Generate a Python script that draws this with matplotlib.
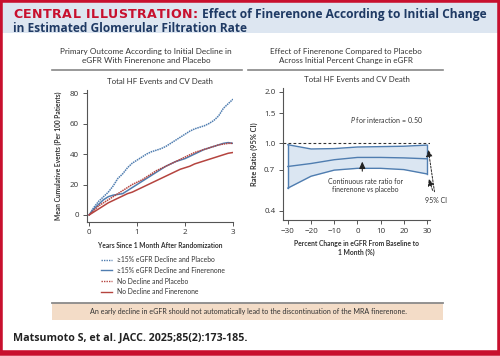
import numpy as np
import matplotlib
matplotlib.use("Agg")
import matplotlib.pyplot as plt
from matplotlib.patches import Rectangle
from matplotlib.lines import Line2D

plt.rcParams['font.family'] = ['Lato', 'DejaVu Sans']
plt.rcParams['mathtext.fontset'] = 'custom'
plt.rcParams['mathtext.it'] = 'Lato:italic'

# left panel: mean cumulative events per 100 patients
years = [0, 0.1, 0.2, 0.3, 0.4, 0.5, 0.6, 0.7, 0.8, 0.9, 1.0, 1.1, 1.2, 1.3, 1.4, 1.5,
         1.6, 1.7, 1.8, 1.9, 2.0, 2.1, 2.2, 2.3, 2.4, 2.5, 2.6, 2.7, 2.8, 2.9, 3.0]
decline_placebo = [0, 5, 9, 12, 15, 19, 24, 27, 31, 34, 36, 38, 40, 41.5, 42.5, 43.5,
                   45, 47, 49, 51, 53, 55, 56.5, 57.5, 58.5, 60, 62, 65, 70, 73, 76]
decline_finer = [0, 4, 7, 10, 12, 13, 13.5, 14, 16, 18, 20, 22, 24, 26, 28, 30,
                 32, 33.5, 35, 36, 37, 38.5, 40, 41.5, 43, 44, 45, 46, 47, 47.5, 47]
nodecl_placebo = [0, 3, 6, 8, 10, 12, 14, 16, 18, 20, 21.5, 23, 25, 27, 29, 30.5,
                  32, 33.5, 35, 36.5, 38, 39.5, 41, 42, 43, 44, 45, 46, 46.5, 47, 47]
nodecl_finer = [0, 2, 4, 6, 8, 9.5, 11, 12.5, 14, 15, 16.5, 18, 19.5, 21, 22.5, 24,
                25.5, 27, 28.5, 30, 31, 32, 33.5, 34.5, 35.5, 36.5, 37.5, 38.5, 39.5, 40.5, 41]

# right panel: rate ratio by percent change in eGFR
pct = [-30, -20, -10, 0, 10, 20, 30]
rr_mid = [0.73, 0.76, 0.80, 0.825, 0.825, 0.82, 0.81]
rr_low = [0.545, 0.64, 0.695, 0.712, 0.712, 0.70, 0.66]
rr_high = [0.98, 0.925, 0.93, 0.95, 0.955, 0.96, 0.975]

blue = '#4f7db0'
red = '#b5443f'
txt = '#333333'
navy = '#1f3a64'
crimson = '#c8102e'
head_font = ['Open Sans', 'DejaVu Sans']

fig = plt.figure(figsize=(5, 3.56), dpi=100)
H = 356.0
renderer = fig.canvas.get_renderer()


def fit(t, target, vertical=False):
    # rescale a text so its length in pixels matches the reference
    bb = t.get_window_extent(renderer)
    w = bb.height if vertical else bb.width
    t.set_fontsize(t.get_fontsize() * target / w)
    return t


def fit_text(x0, x1, y, s, size, **kw):
    t = fig.text(x0 / 500, 1 - y / H, s, fontsize=size, ha='left', **kw)
    return fit(t, x1 - x0)


def text_width(s, size, **kw):
    t = fig.text(0, 0, s, fontsize=size, **kw)
    w = t.get_window_extent(renderer).width
    t.remove()
    return w


def tracked(x0, x1, y, s, size, **kw):
    # letter-spaced caps: spread characters evenly between x0 and x1
    natural = text_width(s, size, **kw)
    track = (x1 - x0 - natural) / (len(s) - 1)
    bar = text_width('|', size, **kw)
    for i, ch in enumerate(s):
        x = x0 + (text_width(s[:i] + '|', size, **kw) - bar if i else 0) + i * track
        fig.text(x / 500, 1 - y / H, ch, fontsize=size, ha='left', va='baseline', **kw)


# header band and frame
fig.patches.append(Rectangle((0, 1 - 33 / H), 1, 33 / H, transform=fig.transFigure,
                             facecolor='#dde6f1', edgecolor='none', zorder=0))
fig.patches.append(Rectangle((0, 0.008), 1, 0.992, transform=fig.transFigure,
                             facecolor='none', edgecolor=crimson, lw=4, zorder=5))
t_head = fit_text(202, 487, 18, 'Effect of Finerenone According to Initial Change', 10,
                  color=navy, fontweight='bold', family=head_font, va='baseline')
fit_text(13, 248, 32, 'in Estimated Glomerular Filtration Rate', 10, color=navy,
         fontweight='bold', family=head_font, va='baseline')
tracked(13, 198, 18, 'CENTRAL ILLUSTRATION:', t_head.get_fontsize() * 1.05, color=crimson,
        fontweight='bold', family=['DejaVu Sans'])

# panel titles
t1 = fig.text(146 / 500, 1 - 56 / H, 'Primary Outcome According to Initial Decline in\neGFR With Finerenone and Placebo',
              ha='center', va='center', fontsize=6.2, color=txt, linespacing=1.25)
fit(t1, 172)
t2 = fig.text(346 / 500, 1 - 56 / H, 'Effect of Finerenone Compared to Placebo\nAcross Initial Percent Change in eGFR',
              ha='center', va='center', fontsize=6.2, color=txt, linespacing=1.25)
fit(t2, 152)
fig.add_artist(Line2D([52 / 500, 242 / 500], [1 - 70 / H, 1 - 70 / H], color='#888888', lw=1.2))
fig.add_artist(Line2D([248 / 500, 443 / 500], [1 - 70 / H, 1 - 70 / H], color='#888888', lw=1.2))

# left chart
ax1 = fig.add_axes([86.7 / 500, 1 - 221.7 / H, 146.3 / 500, 131.7 / H])
ax1.plot(years, decline_placebo, color=blue, lw=1.1, linestyle=(0, (1, 0.5)))
ax1.plot(years, decline_finer, color=blue, lw=1.1)
ax1.plot(years, nodecl_placebo, color=red, lw=1.1, linestyle=(0, (1, 0.5)))
ax1.plot(years, nodecl_finer, color=red, lw=1.1)
ax1.set_xlim(-0.05, 3.0)
ax1.set_ylim(-4.4, 82)
ax1.set_xticks([0, 1, 2, 3])
ax1.set_yticks([0, 20, 40, 60, 80])
fit(ax1.set_title('Total HF Events and CV Death', fontsize=6, color=txt, pad=4.5), 106)
fit(ax1.set_xlabel('Years Since 1 Month After Randomization', fontsize=5.1, fontweight='bold',
                   color=txt, labelpad=4), 125)
fit(ax1.set_ylabel('Mean Cumulative Events (Per 100 Patients)', fontsize=5.1, fontweight='bold',
                   color=txt, labelpad=6), 130, vertical=True)

handles = [Line2D([], [], color=blue, lw=1.0, linestyle=(0, (1, 0.8))),
           Line2D([], [], color=blue, lw=1.0),
           Line2D([], [], color=red, lw=1.0, linestyle=(0, (1, 0.8))),
           Line2D([], [], color=red, lw=1.0)]
labels = ['\u226515% eGFR Decline and Placebo', '\u226515% eGFR Decline and Finerenone',
          'No Decline and Placebo', 'No Decline and Finerenone']
leg_size = 5.4 * 108 / text_width(labels[1], 5.4)
fig.legend(handles, labels, loc='upper left', bbox_to_anchor=(95 / 500, 1 - 250 / H),
           frameon=False, fontsize=leg_size, handlelength=1.6, handletextpad=0.7,
           labelspacing=0.55, labelcolor=txt)

# right chart
ax2 = fig.add_axes([283 / 500, 1 - 220 / H, 147 / 500, 132 / H])
ax2.set_yscale('log')
ax2.fill_between(pct, rr_low, rr_high, color='#dbe6f2', lw=0)
ax2.plot(pct, rr_high, color=blue, lw=1.0)
ax2.plot(pct, rr_low, color=blue, lw=1.0)
ax2.plot(pct, rr_mid, color=blue, lw=1.0)
ax2.plot([pct[0], pct[0]], [rr_low[0], rr_high[0]], color=blue, lw=1.0)
ax2.plot([pct[-1], pct[-1]], [rr_low[-1], rr_high[-1]], color=blue, lw=1.0)
ax2.axhline(1.0, color='#333333', lw=0.8, linestyle=(0, (2.5, 2)))
ax2.set_xlim(-32.1, 31.3)
ax2.set_ylim(0.354, 2.11)
ax2.set_yticks([0.4, 0.7, 1.0, 1.5, 2.0])
ax2.set_yticklabels(['0.4', '0.7', '1.0', '1.5', '2.0'])
ax2.minorticks_off()
ax2.set_xticks([-30, -20, -10, 0, 10, 20, 30])
ax2.set_xticklabels(['\u221230', '\u221220', '\u221210', '0', '10', '20', '30'])
fit(ax2.set_title('Total HF Events and CV Death', fontsize=6, color=txt, pad=4.5), 106)
fit(ax2.set_xlabel('Percent Change in eGFR From Baseline to\n1 Month (%)', fontsize=5.1,
                   fontweight='bold', color=txt, labelpad=4, linespacing=1.3), 126)
fit(ax2.set_ylabel('Rate Ratio (95% CI)', fontsize=5.1, fontweight='bold', color=txt,
                   labelpad=4), 64, vertical=True)

fit(ax2.text(-3, 1.37, '$P$ for interaction = 0.50', fontsize=5.6, color=txt, va='center'), 73)
fit(ax2.text(3.4, 0.565, 'Continuous rate ratio for\nfinerenone vs placebo', fontsize=5.4,
             color=txt, ha='center', va='center', linespacing=1.3), 75)
ax2.annotate('', xy=(2.1, 0.81), xytext=(2.1, 0.66),
             arrowprops=dict(arrowstyle='-|>,head_length=0.4,head_width=0.18', lw=0.8, color='#222222'))
fit(ax2.text(33.7, 0.458, '95% CI', fontsize=5.6, color=txt, ha='center', va='center',
             clip_on=False), 22)
ax2.annotate('', xy=(30.4, 0.95), xytext=(33.4, 0.50), annotation_clip=False,
             arrowprops=dict(arrowstyle='-|>,head_length=0.4,head_width=0.18', lw=0.7,
                             color='#222222', linestyle=(0, (2, 1.5))))
ax2.annotate('', xy=(30.4, 0.64), xytext=(32.8, 0.51), annotation_clip=False,
             arrowprops=dict(arrowstyle='-|>,head_length=0.4,head_width=0.18', lw=0.7,
                             color='#222222', linestyle=(0, (2, 1.5))))

for ax in (ax1, ax2):
    for s in ('top', 'right'):
        ax.spines[s].set_visible(False)
    for s in ('left', 'bottom'):
        ax.spines[s].set_color('#555555')
        ax.spines[s].set_linewidth(0.8)
    ax.tick_params(labelsize=5.8, colors='#555555', labelcolor=txt, length=3, width=0.7, pad=2.5)
    for lab in ax.get_xticklabels() + ax.get_yticklabels():
        lab.set_family(head_font)
    ax.set_facecolor('none')

# bottom message box
fig.patches.append(Rectangle((52 / 500, 1 - 320 / H), 391 / 500, 17.5 / H, transform=fig.transFigure,
                             facecolor='#f3dcc7', edgecolor='none', zorder=1))
fig.add_artist(Line2D([52 / 500, 443 / 500], [1 - 302.5 / H, 1 - 302.5 / H], color='#8a8a8a', lw=1.3))
msg = fig.text(248 / 500, 1 - 311.5 / H,
               'An early decline in eGFR should not automatically lead to the discontinuation of the MRA finerenone.',
               ha='center', va='center', fontsize=5.6, color=txt)
fit(msg, 318)

fit_text(13, 248, 338, 'Matsumoto S, et al. JACC. 2025;85(2):173-185.', 8, va='center',
         fontweight='bold', color='#222222', family=head_font)

fig.savefig('out.png', dpi=100)
